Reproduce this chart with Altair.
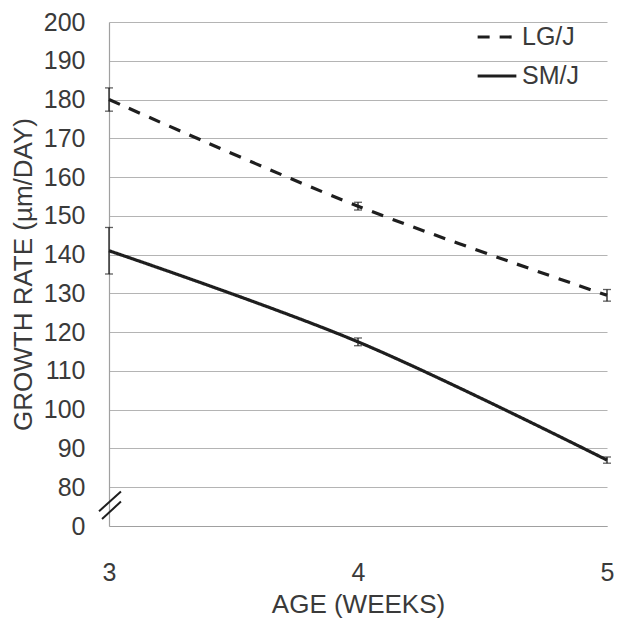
import altair as alt
import pandas as pd

# ---- data ----
weeks = [3, 4, 5]
lg_rate = [180.0, 152.5, 129.5]
lg_err = [3.0, 1.0, 1.5]
sm_rate = [141.0, 117.5, 87.0]
sm_err = [6.0, 1.0, 0.8]
strains = ["LG/J", "SM/J"]
y_ticks = [70, 80, 90, 100, 110, 120, 130, 140, 150, 160, 170, 180, 190, 200]

# axis break marks (decorative, data units)
brk_x = [2.960, 2.972]
brk_x2 = [3.048, 3.048]
brk_y = [73.8, 71.8]
brk_y2 = [78.9, 76.3]

rows = []
for s, vals, errs in [("LG/J", lg_rate, lg_err), ("SM/J", sm_rate, sm_err)]:
    for w, v, e in zip(weeks, vals, errs):
        rows.append({"week": w, "rate": v, "lo": v - e, "hi": v + e, "strain": s})
df = pd.DataFrame(rows)
brk = pd.DataFrame({"x": brk_x, "x2": brk_x2, "y": brk_y, "y2": brk_y2})

FONT = "Liberation Sans"
INK = "#1e1e1e"
TXT = "#3a3a3a"

xscale = alt.Scale(domain=[3, 5], nice=False, zero=False)
yscale = alt.Scale(domain=[70, 200], nice=False, zero=False)

x_axis = alt.Axis(
    title="AGE (WEEKS)", values=weeks, labelOverlap=False, labelFlush=False,
    labelExpr="format(datum.value, 'd')",
)
y_axis = alt.Axis(
    title="GROWTH RATE (µm/DAY)", values=y_ticks, labelOverlap=False,
    labelExpr="datum.value == 70 ? '0' : format(datum.value, 'd')",
)

base = alt.Chart(df)

lines = base.mark_line(interpolate="catmull-rom", strokeWidth=3.2, color=INK).encode(
    x=alt.X("week:Q", scale=xscale, axis=x_axis),
    y=alt.Y("rate:Q", scale=yscale, axis=y_axis),
    strokeDash=alt.StrokeDash(
        "strain:N",
        scale=alt.Scale(domain=strains, range=[[12, 10], [1, 0]]),
        legend=alt.Legend(
            title=None, orient="none", legendX=367, legendY=-6,
            symbolType="stroke", symbolSize=1500, symbolStrokeWidth=3.2,
            symbolStrokeColor=INK, labelFontSize=25, labelColor=TXT,
            labelFont=FONT, rowPadding=5, labelOffset=4,
        ),
    ),
)

err = base.mark_rule(color=INK, strokeWidth=1.3).encode(
    x=alt.X("week:Q", axis=x_axis), y=alt.Y("lo:Q", axis=y_axis), y2="hi:Q"
)
cap_lo = base.mark_tick(orient="horizontal", size=8, thickness=1.3, color=INK).encode(
    x=alt.X("week:Q", axis=x_axis), y=alt.Y("lo:Q", axis=y_axis)
)
cap_hi = base.mark_tick(orient="horizontal", size=8, thickness=1.3, color=INK).encode(
    x=alt.X("week:Q", axis=x_axis), y=alt.Y("hi:Q", axis=y_axis)
)

breaks = alt.Chart(brk).mark_rule(color=INK, strokeWidth=2).encode(
    x=alt.X("x:Q", axis=x_axis), x2="x2:Q", y=alt.Y("y:Q", axis=y_axis), y2="y2:Q"
)

chart = (
    alt.layer(lines, err, cap_lo, cap_hi, breaks)
    .properties(
        width=498, height=504,
        background="white",
        autosize=alt.AutoSizeParams(type="none"),
        padding={"left": 101, "top": 14, "right": 9, "bottom": 92},
    )
    .configure_view(stroke=None)
    .configure_axis(
        labelFont=FONT, titleFont=FONT, labelOverlap=False,
        labelFontSize=25, titleFontSize=26, ticks=False,
        labelColor=TXT, titleColor=TXT, titleFontWeight="normal",
        domainColor="#a0a0a0", domainWidth=1.2,
        gridColor="#b4b4b4", gridWidth=1.2,
    )
    .configure_axisX(grid=False, labelPadding=34, titlePadding=6, labelFlush=False)
    .configure_axisY(labelPadding=24, titlePadding=7)
)

chart.save("out.html", embed_options={"renderer": "svg", "actions": False})
